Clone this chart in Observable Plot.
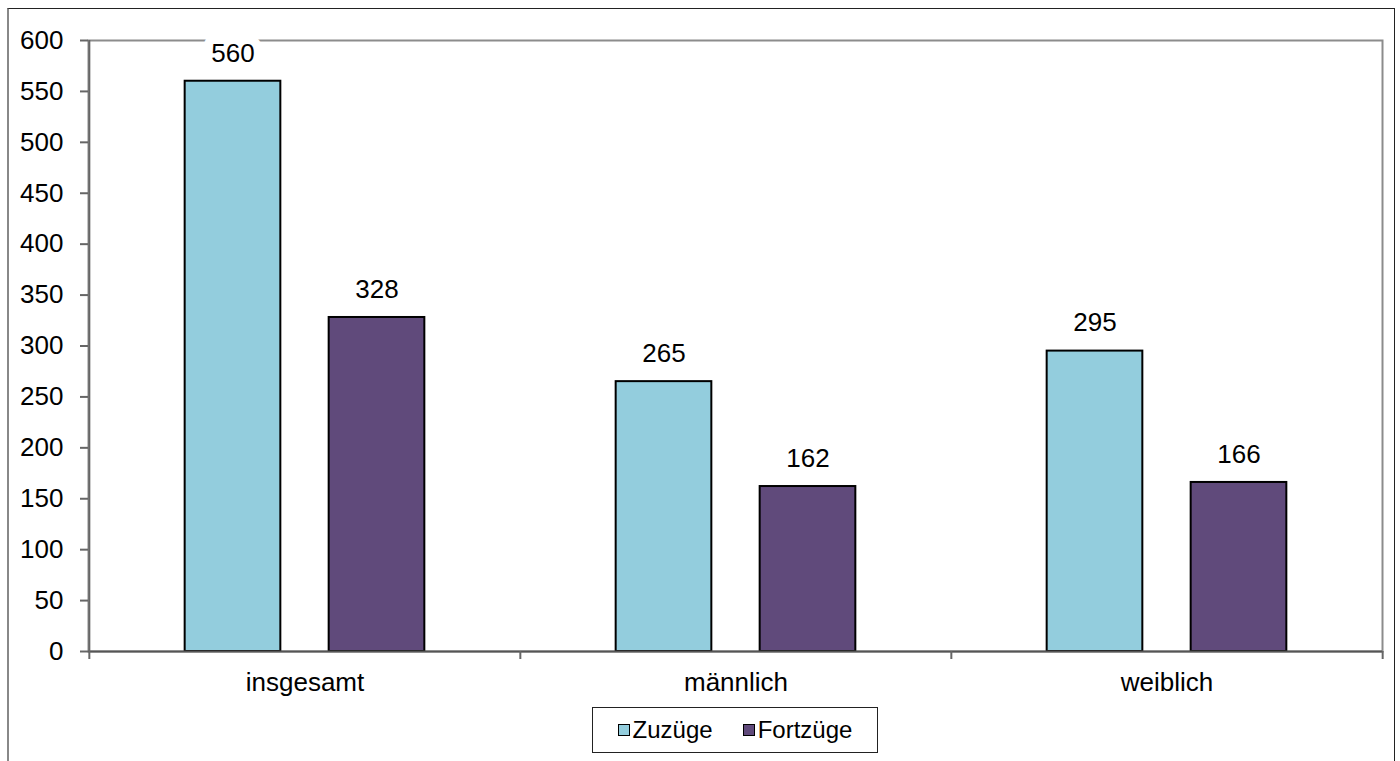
<!DOCTYPE html>
<html>
<head>
<meta charset="utf-8">
<script src="https://cdn.jsdelivr.net/npm/d3@7"></script>
<script src="https://cdn.jsdelivr.net/npm/@observablehq/plot@0.6"></script>
<style>
  html, body { margin: 0; padding: 0; background: #fff; }
  #wrap { position: relative; width: 1400px; height: 761px; overflow: hidden; font-family: "Liberation Sans", Arial, sans-serif; }
  #border { position: absolute; left: 7px; top: 8px; width: 1385px; height: 780px; border: 1px solid #222; border-left: 2px solid #888; }
  #chart { position: absolute; left: 0; top: 0; }
  #legend { position: absolute; left: 592px; top: 707px; width: 286px; height: 46px; border: 1px solid #222; box-sizing: border-box; background: #fff;
            display: flex; align-items: center; justify-content: center; gap: 30px; font-size: 24px; color: #000; }
  .item { display: flex; align-items: center; }
  .sw { width: 10px; height: 10px; border: 1px solid #000; margin-right: 3px; }
</style>
</head>
<body>
<div id="wrap">
  <div id="border"></div>
  <div id="chart"></div>
  <div id="legend"></div>
</div>
<script>
const categories = ["insgesamt", "männlich", "weiblich"];
const seriesNames = ["Zuzüge", "Fortzüge"];
const zuzuege = [560, 265, 295];
const fortzuege = [328, 162, 166];
const colors = ["#93cddd", "#604a7b"];
const yTicks = [0, 50, 100, 150, 200, 250, 300, 350, 400, 450, 500, 550, 600];

const zData = categories.map((c, i) => ({cat: c, value: zuzuege[i], series: seriesNames[0]}));
const fData = categories.map((c, i) => ({cat: c, value: fortzuege[i], series: seriesNames[1]}));

const W = 1400, H = 761;
const mL = 88, mR = 18, mT = 40, mB = 110;
const band = (W - mL - mR) / categories.length;
const barW = 96, gap = 48;
const outer = (band - 2 * barW - gap) / 2;
const tickLen = 8 * 600 / (H - mT - mB); // 8px in data units

const font = "Liberation Sans, Arial, sans-serif";

const plot = Plot.plot({
  width: W, height: H,
  marginLeft: mL, marginRight: mR, marginTop: mT, marginBottom: mB,
  style: {fontFamily: font, fontSize: "26px", color: "#000", background: "transparent"},
  x: {domain: categories, padding: 0, label: null},
  y: {domain: [0, 600], label: null},
  color: {domain: seriesNames, range: colors},
  marks: [
    Plot.frame({stroke: "#8c8c8c", strokeWidth: 2}),
    Plot.barY(zData, {x: "cat", y: "value", fill: "series", stroke: "#000", strokeWidth: 2,
      insetLeft: outer, insetRight: band - outer - barW}),
    Plot.barY(fData, {x: "cat", y: "value", fill: "series", stroke: "#000", strokeWidth: 2,
      insetLeft: outer + barW + gap, insetRight: outer}),
    Plot.text(zData, {x: "cat", y: "value", text: d => String(d.value), dx: -(barW + gap) / 2, dy: -28, fontSize: 26, fill: "#000", stroke: "#fff", strokeWidth: 18}),
    Plot.text(fData, {x: "cat", y: "value", text: d => String(d.value), dx: (barW + gap) / 2, dy: -28, fontSize: 26, fill: "#000", stroke: "#fff", strokeWidth: 18}),
    Plot.ruleY([0], {stroke: "#555", strokeWidth: 2}),
    Plot.ruleX(categories.slice(0, 1), {x: d => d, dx: -band / 2, stroke: "#666", strokeWidth: 2}),
    Plot.ruleX(categories, {x: d => d, y1: 0, y2: -tickLen, dx: -band / 2, stroke: "#666", strokeWidth: 2}),
    Plot.ruleX(categories.slice(-1), {x: d => d, y1: 0, y2: -tickLen, dx: band / 2, stroke: "#666", strokeWidth: 2}),
    Plot.axisY({ticks: yTicks, tickSize: 8, tickPadding: 17, tickFormat: d => String(d), fontSize: 26, stroke: "#666", strokeWidth: 2}),
    Plot.axisX({tickSize: 0, tickPadding: 21, fontSize: 26}),
  ]
});
document.getElementById("chart").appendChild(plot);

const legend = document.getElementById("legend");
seriesNames.forEach((s, i) => {
  const item = document.createElement("div");
  item.className = "item";
  const sw = document.createElement("div");
  sw.className = "sw";
  sw.style.background = colors[i];
  const t = document.createElement("span");
  t.textContent = s;
  item.appendChild(sw);
  item.appendChild(t);
  legend.appendChild(item);
});
</script>
</body>
</html>
